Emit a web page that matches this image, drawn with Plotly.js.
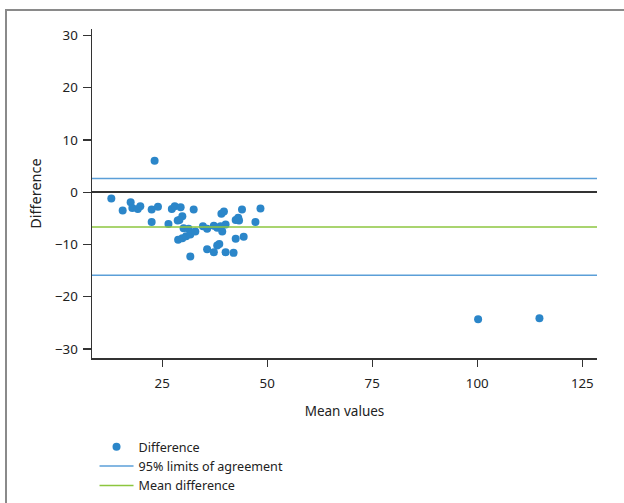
<!DOCTYPE html>
<html>
<head>
<meta charset="utf-8">
<script src="https://cdn.plot.ly/plotly-3.0.1.min.js"></script>
<style>
html,body{margin:0;padding:0;background:#fff;}
#chart{width:624px;height:503px;position:relative;}
#frame{position:absolute;left:5px;top:9px;width:640px;height:520px;border-top:2px solid #8a8a8a;border-left:2px solid #8a8a8a;pointer-events:none;}
</style>
</head>
<body>
<div id="chart"></div>
<div id="frame"></div>
<script>
// Mean values (x) and differences (y)
const meanValues = [23.2, 12.9, 15.6, 17.5, 17.9, 19.2, 19.8, 22.5, 24.0, 22.5,
  26.5, 27.3, 28.0, 29.4, 32.5, 29.8, 28.7, 29.1, 30.1, 31.3,
  28.8, 29.8, 30.7, 31.7, 32.9, 31.7, 34.7, 35.7, 35.7, 37.3,
  38.1, 38.9, 39.3, 40.1, 38.1, 38.6, 37.3, 40.1, 42.0, 39.1,
  39.7, 42.5, 44.4, 42.5, 43.1, 43.3, 44.0, 47.2, 48.4, 100.2, 114.8];
const differences = [6.0, -1.2, -3.5, -1.9, -3.0, -3.2, -2.7, -3.3, -2.8, -5.7,
  -6.1, -3.2, -2.7, -2.9, -3.3, -4.6, -5.4, -5.3, -6.9, -7.0,
  -9.1, -8.8, -8.4, -8.1, -7.5, -12.3, -6.5, -7.0, -10.9, -6.4,
  -6.8, -6.5, -7.5, -6.2, -10.2, -9.9, -11.5, -11.5, -11.6, -4.1,
  -3.7, -8.9, -8.5, -5.3, -4.9, -5.4, -3.3, -5.7, -3.1, -24.3, -24.1];
const meanDifference = -6.65;
const upperLimit = 2.6;
const lowerLimit = -15.9;
const xSpan = [8.3, 128.5];
const yRange = [-31.7, 31.2];
const xTicks = [25, 50, 75, 100, 125];
const yTicks = [-30, -20, -10, 0, 10, 20, 30];
const yTickText = ['\u221230', '\u221220', '\u221210', '0', '10', '20', '30'];

const font = "'Noto Sans', 'Open Sans', sans-serif";
const traces = [
  {type:'scatter', mode:'markers', name:'Difference', x:meanValues, y:differences,
   marker:{color:'#2b86c9', size:8}, cliponaxis:false},
  {type:'scatter', mode:'lines', name:'95% limits of agreement', x:xSpan, y:[upperLimit, upperLimit],
   line:{color:'#5b9fd8', width:1.5}, legendgroup:'loa'},
  {type:'scatter', mode:'lines', name:'95% limits of agreement', x:xSpan, y:[lowerLimit, lowerLimit],
   line:{color:'#5b9fd8', width:1.5}, legendgroup:'loa', showlegend:false},
  {type:'scatter', mode:'lines', name:'Mean difference', x:xSpan, y:[meanDifference, meanDifference],
   line:{color:'#8dc63f', width:1.5}}
];
const layout = {
  width:624, height:503,
  margin:{l:92, r:27, t:29, b:145, autoexpand:false},
  paper_bgcolor:'#fff', plot_bgcolor:'#fff',
  font:{family:font, size:13.3, color:'#222'},
  showlegend:true,
  legend:{x:0.005, xanchor:'left', y:-0.225, yanchor:'top', font:{size:12.6, color:'#222'},
          itemwidth:34, tracegroupgap:0, bgcolor:'rgba(0,0,0,0)'},
  xaxis:{range:xSpan, tickvals:xTicks, ticks:'outside', ticklen:7, tickwidth:1.3, tickcolor:'#333',
         ticklabelstandoff:6,
         showline:true, linecolor:'#333', linewidth:1.5, showgrid:false, zeroline:false,
         title:{text:'Mean values', font:{size:13.5}, standoff:15}},
  yaxis:{range:yRange, tickvals:yTicks, ticktext:yTickText, ticks:'outside', ticklen:8, tickwidth:1.3, tickcolor:'#333',
         ticklabelstandoff:2,
         showline:true, linecolor:'#333', linewidth:1.5, showgrid:false,
         zeroline:true, zerolinecolor:'#333', zerolinewidth:1.5,
         title:{text:'Difference', font:{size:14.5}, standoff:10}}
};
Plotly.newPlot('chart', traces, layout, {displayModeBar:false, staticPlot:true});
</script>
</body>
</html>
